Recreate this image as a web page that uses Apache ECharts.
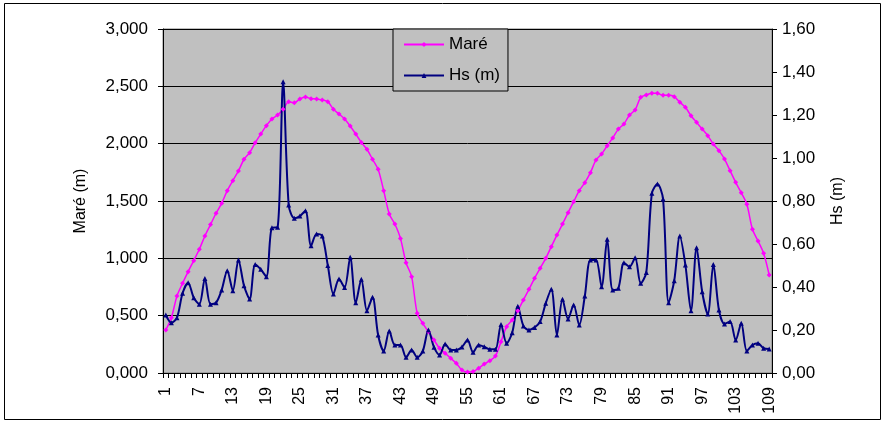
<!DOCTYPE html>
<html>
<head>
<meta charset="utf-8">
<script src="https://cdn.jsdelivr.net/npm/echarts@6/dist/echarts.min.js"></script>
<style>html,body{margin:0;padding:0;background:#fff}#c{width:885px;height:421px}</style>
</head>
<body>
<div id="c"></div>
<script>
var categories = Array.from({length: 109}, function (_, i) { return String(i + 1); });

var mare = [0.375,0.482,0.672,0.782,0.884,0.980,1.079,1.195,1.294,1.393,
1.480,1.590,1.677,1.762,1.864,1.921,2.008,2.084,2.157,2.215,
2.250,2.300,2.366,2.357,2.390,2.407,2.392,2.390,2.381,2.366,
2.300,2.259,2.215,2.154,2.084,2.011,1.951,1.864,1.776,1.590,
1.387,1.299,1.174,0.962,0.840,0.520,0.433,0.360,0.288,0.215,
0.172,0.128,0.084,0.026,0.008,0.012,0.041,0.078,0.107,0.148,
0.273,0.404,0.462,0.543,0.637,0.730,0.826,0.913,1.000,1.102,
1.203,1.299,1.398,1.494,1.590,1.660,1.747,1.858,1.910,1.982,
2.050,2.127,2.172,2.250,2.294,2.404,2.424,2.439,2.439,2.422,
2.422,2.410,2.361,2.317,2.244,2.186,2.128,2.070,1.997,1.939,
1.866,1.764,1.663,1.572,1.471,1.253,1.151,1.044,0.855];

var hs = [0.270,0.234,0.257,0.371,0.420,0.350,0.320,0.440,0.320,0.327,
0.386,0.476,0.383,0.526,0.406,0.344,0.505,0.482,0.448,0.676,
0.678,1.355,0.781,0.720,0.730,0.755,0.592,0.646,0.637,0.500,
0.367,0.437,0.398,0.538,0.327,0.436,0.290,0.352,0.177,0.102,
0.195,0.130,0.130,0.073,0.107,0.073,0.102,0.200,0.120,0.084,
0.135,0.107,0.107,0.121,0.153,0.096,0.130,0.122,0.110,0.110,
0.226,0.138,0.187,0.311,0.219,0.200,0.212,0.239,0.324,0.389,
0.177,0.343,0.251,0.316,0.223,0.358,0.526,0.526,0.401,0.622,
0.386,0.394,0.513,0.494,0.536,0.417,0.468,0.836,0.879,0.809,
0.327,0.429,0.637,0.502,0.290,0.583,0.378,0.274,0.505,0.293,
0.228,0.239,0.153,0.231,0.102,0.130,0.138,0.115,0.112];

var leftTicks = ['0,000','0,500','1,000','1,500','2,000','2,500','3,000'];
var rightTicks = ['0,00','0,20','0,40','0,60','0,80','1,00','1,20','1,40','1,60'];

var FONT = '"Liberation Sans", Arial, sans-serif';
var chart = echarts.init(document.getElementById('c'), null, {renderer: 'canvas'});
chart.setOption({
  backgroundColor: '#ffffff',
  animation: false,
  textStyle: {fontFamily: FONT, color: '#000'},
  graphic: [{
    type: 'rect', z: 100, silent: true,
    shape: {x: 4.5, y: 3.5, width: 876, height: 416},
    style: {fill: 'none', stroke: '#000', lineWidth: 1}
  }],
  grid: {
    left: 163, right: 113, top: 29, bottom: 48,
    show: true, backgroundColor: '#c0c0c0', borderColor: '#808080', borderWidth: 1
  },
  legend: {
    left: 393, top: 29, width: 114, height: 65,
    orient: 'vertical',
    backgroundColor: '#c0c0c0', borderColor: '#000', borderWidth: 1,
    padding: [7, 8, 7, 10],
    itemWidth: 40, itemHeight: 6, itemGap: 14,
    textStyle: {fontFamily: FONT, fontSize: 17, color: '#000'},
    data: ['Maré', 'Hs (m)']
  },
  xAxis: {
    type: 'category', data: categories, boundaryGap: true,
    axisLine: {lineStyle: {color: '#000', width: 1}},
    axisTick: {show: true, interval: 0, length: 5, lineStyle: {color: '#000'}},
    axisLabel: {interval: 5, rotate: 90, fontSize: 16, fontFamily: FONT, color: '#000', margin: 14},
    splitLine: {show: false}
  },
  yAxis: [{
    type: 'value', min: 0, max: 3, interval: 0.5, position: 'left',
    name: 'Maré (m)', nameLocation: 'middle', nameGap: 74, nameRotate: 90,
    nameTextStyle: {fontSize: 16, fontFamily: FONT, color: '#000'},
    axisLine: {show: true, lineStyle: {color: '#000'}},
    axisTick: {show: true, length: 5, lineStyle: {color: '#000'}},
    axisLabel: {fontSize: 17, fontFamily: FONT, color: '#000', margin: 15,
      formatter: function (v) { return leftTicks[Math.round(v / 0.5)]; }},
    splitLine: {show: true, lineStyle: {color: '#000', width: 1}}
  }, {
    type: 'value', min: 0, max: 1.6, interval: 0.2, position: 'right',
    name: 'Hs (m)', nameLocation: 'middle', nameGap: 58, nameRotate: 90,
    nameTextStyle: {fontSize: 16, fontFamily: FONT, color: '#000'},
    axisLine: {show: true, lineStyle: {color: '#000'}},
    axisTick: {show: true, length: 5, lineStyle: {color: '#000'}},
    axisLabel: {fontSize: 17, fontFamily: FONT, color: '#000', margin: 10,
      formatter: function (v) { return rightTicks[Math.round(v / 0.2)]; }},
    splitLine: {show: false}
  }],
  series: [{
    name: 'Maré', type: 'line', yAxisIndex: 0, data: mare,
    smooth: 0.3, symbol: 'diamond', symbolSize: 5, showAllSymbol: true,
    itemStyle: {color: '#ff00ff'}, lineStyle: {color: '#ff00ff', width: 1.5}
  }, {
    name: 'Hs (m)', type: 'line', yAxisIndex: 1, data: hs,
    smooth: 0.3, symbol: 'triangle', symbolSize: 5, showAllSymbol: true,
    itemStyle: {color: '#000080'}, lineStyle: {color: '#000080', width: 2}
  }]
});
</script>
</body>
</html>
